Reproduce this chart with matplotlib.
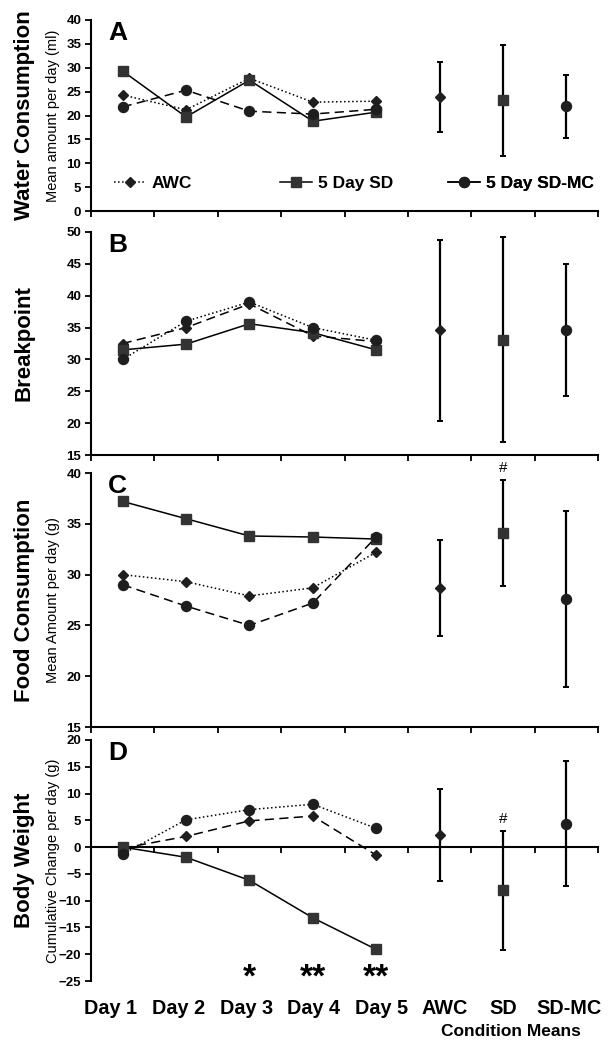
import matplotlib
matplotlib.use("Agg")
import matplotlib.pyplot as plt
from matplotlib.lines import Line2D
import matplotlib.transforms as mtransforms

# ---------------- data ----------------
days = ["Day 1", "Day 2", "Day 3", "Day 4", "Day 5"]
means_labels = ["AWC", "SD", "SD-MC"]
series_names = ["AWC", "5 Day SD", "5 Day SD-MC"]

# Panel A: water consumption (ml)
water_awc = [24.3, 21.2, 27.8, 22.8, 23.0]
water_sd = [29.3, 19.7, 27.4, 18.8, 20.7]
water_sdmc = [21.8, 25.3, 20.9, 20.3, 21.3]
water_mean = [23.8, 23.2, 21.9]
water_err = [7.35, 11.65, 6.65]

# Panel B: breakpoint
bp_awc = [32.5, 35.0, 38.7, 33.7, 32.8]
bp_sd = [31.5, 32.4, 35.6, 34.2, 31.5]
bp_sdmc = [30.0, 36.0, 39.0, 35.0, 33.0]
bp_mean = [34.6, 33.1, 34.6]
bp_err = [14.2, 16.05, 10.4]

# Panel C: food consumption (g)
food_awc = [30.0, 29.3, 27.9, 28.7, 32.2]
food_sd = [37.2, 35.5, 33.8, 33.7, 33.5]
food_sdmc = [29.0, 26.9, 25.0, 27.2, 33.7]
food_mean = [28.7, 34.1, 27.6]
food_err = [4.7, 5.2, 8.7]

# Panel D: body weight cumulative change (g)
bw_awc = [-0.2, 2.0, 4.9, 5.8, -1.5]
bw_sd = [0.0, -1.9, -6.2, -13.2, -19.1]
bw_sdmc = [-1.3, 5.1, 7.0, 8.0, 3.5]
bw_mean = [2.2, -8.1, 4.4]
bw_err = [8.6, 11.1, 11.7]

# ---------------- style ----------------
SANS = ["Liberation Sans", "DejaVu Sans"]
plt.rcParams["font.family"] = SANS

DARK = "#1e1e1e"
SQ = "#333333"
markers = {"AWC": ("D", 5.5, DARK), "5 Day SD": ("s", 7.5, SQ), "5 Day SD-MC": ("o", 7.2, DARK)}
DASH = (0, (6, 3.5))

W, H = 616, 1050
fig = plt.figure(figsize=(W / 100, H / 100), dpi=100)

left_px, right_px = 91, 598
panels = [
    dict(top=20, bot=211, ylim=(0, 40), big="Water Consumption",
         small="Mean amount per day (ml)", letter="A",
         data=(water_awc, water_sd, water_sdmc), mean=water_mean, err=water_err,
         styles=(":", "-", DASH)),
    dict(top=232, bot=455, ylim=(15, 50), big="Breakpoint",
         small="", letter="B",
         data=(bp_awc, bp_sd, bp_sdmc), mean=bp_mean, err=bp_err,
         styles=(DASH, "-", ":")),
    dict(top=473, bot=727, ylim=(15, 40), big="Food Consumption",
         small="Mean Amount per day (g)", letter="C",
         data=(food_awc, food_sd, food_sdmc), mean=food_mean, err=food_err,
         styles=(":", "-", DASH)),
    dict(top=740, bot=981, ylim=(-25, 20), big="Body Weight",
         small="Cumulative Change per day (g)", letter="D",
         data=(bw_awc, bw_sd, bw_sdmc), mean=bw_mean, err=bw_err,
         styles=(DASH, "-", ":")),
]

x_days = list(range(1, 6))
x_means = [6, 7, 8]
axes = []
for p in panels:
    ax = fig.add_axes([left_px / W, 1 - p["bot"] / H,
                       (right_px - left_px) / W, (p["bot"] - p["top"]) / H])
    axes.append(ax)
    lo, hi = p["ylim"]
    ax.set_ylim(lo, hi)
    ax.set_xlim(0.5, 8.5)
    ax.set_yticks(list(range(lo, hi + 1, 5)))
    ax.set_xticks([i + 0.5 for i in range(0, 9)])
    ax.set_xticklabels([])
    ax.spines["top"].set_visible(False)
    ax.spines["right"].set_visible(False)
    for s in ("left", "bottom"):
        ax.spines[s].set_linewidth(1.5)
        ax.spines[s].set_color("black")
    if lo < 0:
        ax.spines["bottom"].set_position(("data", 0))
    ax.tick_params(axis="both", direction="out", length=4.5, width=1.3,
                   colors="black", pad=2.5)
    for lab in ax.get_yticklabels():
        lab.set_fontweight("bold")
        lab.set_fontsize(9.5)

    for name, vals, ls in zip(series_names, p["data"], p["styles"]):
        m, ms, c = markers[name]
        ax.plot(x_days, vals, linestyle=ls, color="black", lw=1.1,
                marker=m, markersize=ms, markerfacecolor=c, markeredgecolor=c,
                clip_on=False, zorder=3)
    for name, xm, mv, ev in zip(series_names, x_means, p["mean"], p["err"]):
        m, ms, c = markers[name]
        ax.errorbar([xm], [mv], yerr=[ev], fmt=m, markersize=ms,
                    color=c, ecolor="black", elinewidth=1.6, capsize=2.5,
                    capthick=1.4, clip_on=False, zorder=3)

    off = mtransforms.offset_copy(ax.transAxes, fig=fig, x=0, y=-1, units="dots")
    ax.text(0.034, 1.0, p["letter"], transform=off, fontsize=19,
            fontweight="bold", va="top", ha="left")
    ax.text(-0.132, 0.5, p["big"], transform=ax.transAxes, rotation=90,
            fontsize=16, fontweight="bold", va="center", ha="center")
    if p["small"]:
        ax.text(-0.075, 0.5, p["small"], transform=ax.transAxes, rotation=90,
                fontsize=10.5, va="center", ha="center")

# Legend in panel A: three separate entries (handles drawn as in the original key)
axA = axes[0]
legend_styles = [":", "-", "-"]
for name, ls, xa in zip(series_names, legend_styles, [0.045, 0.373, 0.704]):
    m, ms, c = markers[name]
    h = Line2D([], [], linestyle=ls, color="black", lw=1.1, marker=m,
               markersize=ms, markerfacecolor=c, markeredgecolor=c)
    leg = axA.legend([h], [name], loc="center left", bbox_to_anchor=(xa, 0.143),
                     frameon=False, handlelength=1.85, handletextpad=0.35,
                     borderpad=0, borderaxespad=0,
                     prop=dict(weight="bold", size=12.5))
    axA.add_artist(leg)

# Significance marks
axC = axes[2]
axC.text(7, food_mean[1] + food_err[1] + 0.55, "#", ha="center", va="bottom",
         fontsize=11, clip_on=False)
axD = axes[3]
axD.text(7, bw_mean[1] + bw_err[1] + 1.0, "#", ha="center", va="bottom",
         fontsize=11)
for xd, star in zip([3, 4, 5], ["*", "**", "**"]):
    axD.text(xd, -26.1, star, ha="center", va="baseline", fontsize=24,
             fontweight="bold", clip_on=False)

# Category labels under bottom panel
tr = mtransforms.blended_transform_factory(axD.transData, fig.transFigure)
day_pos = [0.81, 1.88, 2.95, 4.01, 5.08]
for xd, lab in zip(day_pos, days):
    axD.text(xd, 1 - 1008 / H, lab, transform=tr, ha="center", va="center",
             fontsize=14.3, fontweight="bold")
for xd, lab in zip([6.08, 7.0, 8.04], means_labels):
    axD.text(xd, 1 - 1008 / H, lab, transform=tr, ha="center", va="center",
             fontsize=14.3, fontweight="bold")
axD.text(7.13, 1 - 1032 / H, "Condition Means", transform=tr,
         ha="center", va="center", fontsize=12.5, fontweight="bold")

fig.savefig("out.png", dpi=100)
